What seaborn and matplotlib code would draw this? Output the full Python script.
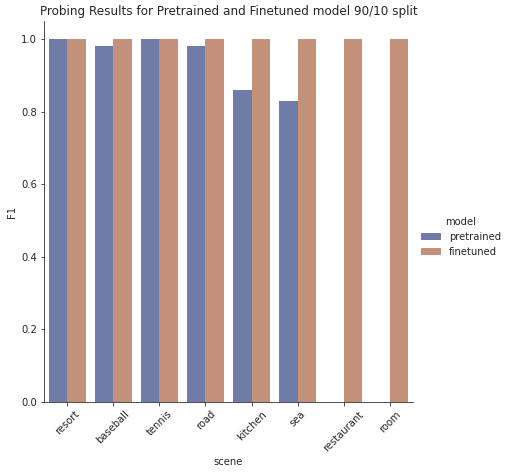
import matplotlib.pyplot as plt
import pandas as pd
import seaborn as sns

sns.set_style("ticks")
plt.rcParams["font.family"] = ["DejaVu Sans"]
plt.rcParams.update({"font.size": 10, "axes.titlesize": 12, "axes.labelsize": 10,
                     "xtick.labelsize": 10, "ytick.labelsize": 10, "legend.fontsize": 10})

scenes = ["resort", "baseball", "tennis", "road", "kitchen", "sea", "restaurant", "room"]
pretrained = [1.0, 0.98, 1.0, 0.98, 0.86, 0.83, None, None]
finetuned = [1.0, 1.0, 1.0, 1.0, 1.0, 1.0, 1.0, 1.0]

df = pd.DataFrame({
    "scene": scenes * 2,
    "F1": pretrained + finetuned,
    "model": ["pretrained"] * len(scenes) + ["finetuned"] * len(scenes),
})

g = sns.catplot(
    data=df, kind="bar", x="scene", y="F1", hue="model",
    palette="dark", alpha=.6, height=6, linewidth=0,
)
g.ax.set_title("Probing Results for Pretrained and Finetuned model 90/10 split")
g.ax.tick_params(axis="x", rotation=45)

fig = g.figure
fig.set_dpi(72)
fig.set_size_inches(508 / 72, 474 / 72)
fig.subplots_adjust(left=44 / 508, right=413 / 508, top=1 - 21 / 474, bottom=1 - 402 / 474)
sns.move_legend(g, "center left", bbox_to_anchor=(412 / 508, 0.5), frameon=False)
fig.savefig("out.png", dpi=72)
